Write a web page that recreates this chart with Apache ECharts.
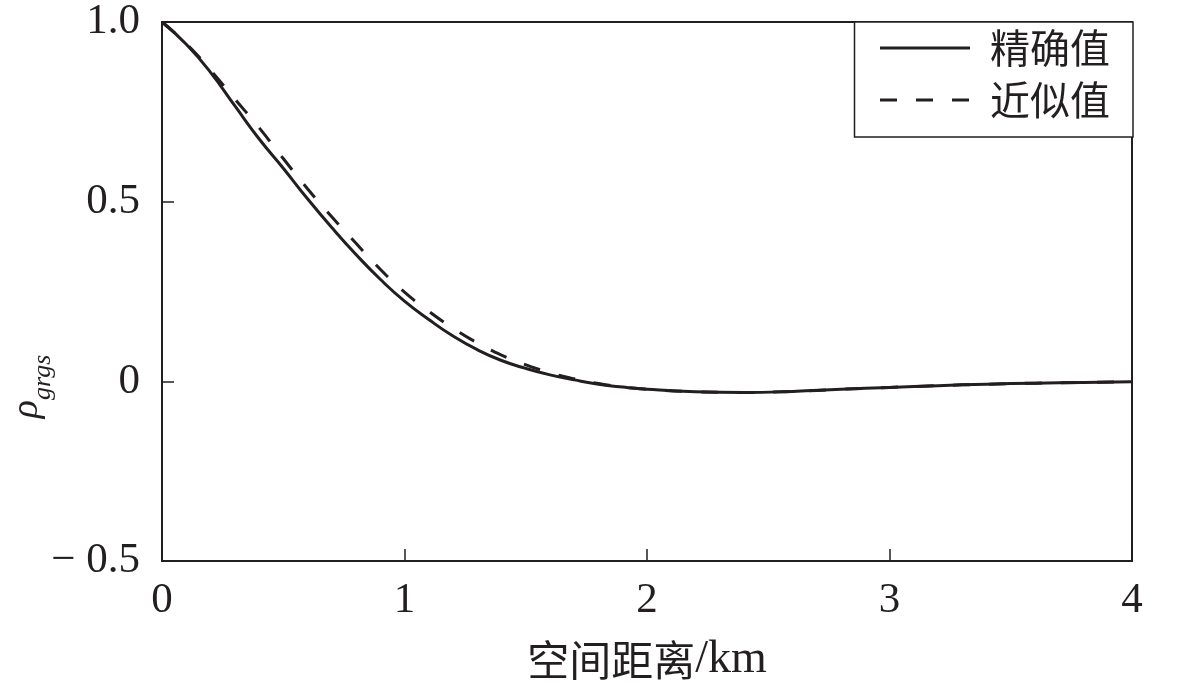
<!DOCTYPE html>
<html>
<head>
<meta charset="utf-8">
<script src="https://cdn.jsdelivr.net/npm/echarts@6/dist/echarts.min.js"></script>
<style>
  html, body { margin: 0; padding: 0; background: #fff; }
  #chart { width: 1181px; height: 687px; }
</style>
</head>
<body>
<div id="chart"></div>
<script>
// 空间距离 (km)
const distances = [0, 0.1, 0.2, 0.3, 0.4, 0.5, 0.6, 0.7, 0.8, 0.9, 1.0, 1.1, 1.2, 1.3, 1.4, 1.5, 1.6, 1.7, 1.8, 1.9, 2.0,
  2.2, 2.4, 2.6, 2.8, 3.0, 3.2, 3.4, 3.6, 3.8, 4.0]
const exactValues = [1.0, 0.938, 0.860, 0.767, 0.675, 0.593, 0.508, 0.428, 0.353, 0.284, 0.223, 0.172, 0.126, 0.088, 0.058, 0.036,
  0.018, 0.004, -0.008, -0.016, -0.022, -0.029, -0.031, -0.028, -0.022, -0.017, -0.012, -0.008, -0.005, -0.003, -0.001]
const approxValues = [1.0, 0.940, 0.866, 0.786, 0.706, 0.620, 0.536, 0.458, 0.384, 0.312, 0.248, 0.195, 0.148, 0.107, 0.073, 0.046,
  0.024, 0.007, -0.006, -0.016, -0.022, -0.029, -0.031, -0.028, -0.022, -0.017, -0.012, -0.008, -0.005, -0.003, -0.001]
const seriesNames = ['精确值', '近似值']
const yTickLabels = { '-0.5': '\u2212 0.5', '0': '0', '0.5': '0.5', '1': '1.0' }

const ink = '#231f20'
const serif = '"Liberation Serif", "DejaVu Serif", serif'
const cjk = '"Noto Sans CJK SC", sans-serif'

const chart = echarts.init(document.getElementById('chart'))

function pairs(values) {
  return distances.map((d, i) => [d, values[i]])
}

chart.setOption({
  animation: false,
  grid: {
    left: 162, right: 49, top: 22, bottom: 126,
    outerBoundsMode: 'none',
    containLabel: false,
    show: true, borderColor: ink, borderWidth: 2
  },
  legend: {
    data: seriesNames,
    orient: 'vertical',
    right: 48, top: 22,
    backgroundColor: '#fff',
    borderColor: ink, borderWidth: 1.5, borderRadius: 0,
    padding: [6, 23, 17, 24],
    itemWidth: 90, itemHeight: 40, itemGap: 12,
    itemStyle: { opacity: 0 },
    lineStyle: { width: 3 },
    textStyle: { fontFamily: cjk, fontSize: 40, color: ink, padding: [0, 0, 0, 15] }
  },
  xAxis: {
    type: 'value',
    min: 0, max: 4, interval: 1,
    name: '{c|空间距离}{l|/km}',
    nameLocation: 'middle',
    nameGap: 76,
    nameTextStyle: {
      rich: {
        c: { fontFamily: cjk, fontSize: 42, color: ink },
        l: { fontFamily: serif, fontSize: 46, color: ink }
      }
    },
    axisLine: { onZero: false, lineStyle: { color: ink, width: 2 } },
    axisTick: { inside: true, length: 12, lineStyle: { color: ink, width: 1.5 } },
    axisLabel: { fontFamily: serif, fontSize: 43, color: ink, margin: 18 },
    splitLine: { show: false }
  },
  yAxis: {
    type: 'value',
    min: -0.5, max: 1, interval: 0.5,
    name: '{r|ρ}{s|grgs}',
    nameLocation: 'middle',
    nameGap: 106,
    nameMoveOverlap: false,
    nameRotate: 90,
    nameTextStyle: {
      padding: [0, 190, 0, 0],
      rich: {
        r: { fontFamily: serif, fontStyle: 'italic', fontSize: 38, color: ink, verticalAlign: 'top', lineHeight: 40 },
        s: { fontFamily: serif, fontStyle: 'italic', fontSize: 26, color: ink, verticalAlign: 'bottom', padding: [22, 0, 0, 0] }
      }
    },
    axisLine: { onZero: false, lineStyle: { color: ink, width: 2 } },
    axisTick: { inside: true, length: 12, lineStyle: { color: ink, width: 1.5 } },
    axisLabel: {
      fontFamily: serif, fontSize: 43, color: ink, margin: 22,
      formatter: v => yTickLabels[String(v)] ?? String(v)
    },
    splitLine: { show: false }
  },
  series: [
    {
      name: seriesNames[0],
      type: 'line',
      data: pairs(exactValues),
      smooth: true,
      symbol: 'none',
      lineStyle: { color: ink, width: 3 },
      itemStyle: { color: ink }
    },
    {
      name: seriesNames[1],
      type: 'line',
      data: pairs(approxValues),
      smooth: true,
      symbol: 'none',
      lineStyle: { color: ink, width: 3, type: [17, 19] },
      itemStyle: { color: ink }
    }
  ]
})
</script>
</body>
</html>
